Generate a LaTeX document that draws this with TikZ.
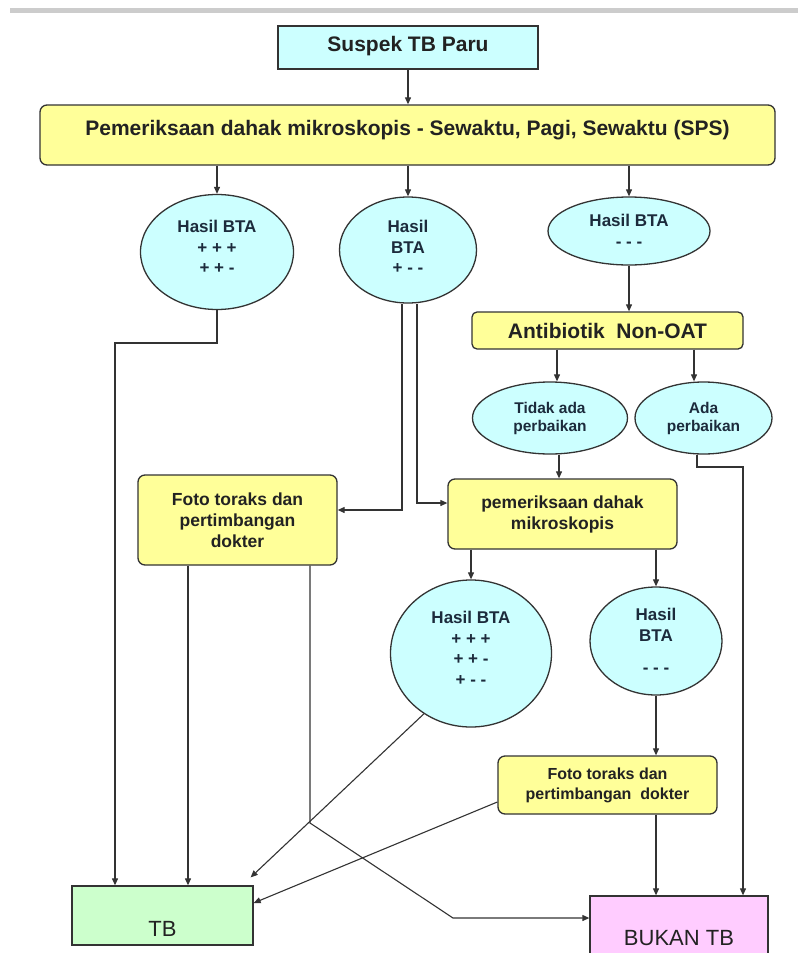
\documentclass[tikz,border=0pt]{standalone}
\usepackage{fontspec}
\setmainfont{Liberation Sans}
\usetikzlibrary{shapes.geometric,arrows.meta,calc}
\definecolor{cy}{HTML}{CCFFFF}
\definecolor{ye}{HTML}{FFFF99}
\definecolor{gr}{HTML}{CCFFCC}
\definecolor{pk}{HTML}{FFCCFF}
\definecolor{lnc}{HTML}{333333}
\definecolor{txb}{HTML}{222222}
\definecolor{txe}{HTML}{1C2B3C}
\begin{document}
\begin{tikzpicture}[x=1pt,y=-1pt,
  box/.style={draw=lnc, line width=1.3pt, inner sep=0pt, align=center, text=txb},
  ybox/.style={box, fill=ye, rounded corners=7pt, font=\fontsize{17.5}{21}\bfseries\selectfont},
  ell/.style={box, ellipse, fill=cy, text=txe, font=\fontsize{17}{20.5}\bfseries\selectfont},
  arr/.style={draw=lnc, line width=1.1pt, -{Triangle[length=7pt,width=6pt]}},
  plain/.style={draw=lnc, line width=1.1pt}
]
\useasboundingbox (0,0) rectangle (798,953);
\fill[white] (0,0) rectangle (798,953);
\fill[gray!40] (10,8) rectangle (798,13);

% nodes
\node[box, fill=cy, minimum width=260pt, minimum height=43pt,
      font=\fontsize{21}{24}\bfseries\selectfont, text height=15pt, text depth=8pt]
      (suspek) at (408,47.5) {Suspek TB Paru};
\node[ybox, minimum width=735pt, minimum height=60pt,
      font=\fontsize{21}{24}\bfseries\selectfont, text height=15pt, text depth=14pt]
      (sps) at (407.5,135) {Pemeriksaan dahak mikroskopis - Sewaktu, Pagi, Sewaktu (SPS)};

\node[ell, minimum width=153pt, minimum height=115pt, text depth=10pt] (e1) at (217,252)
      {Hasil BTA\\+ + +\\+ + -};
\node[ell, minimum width=137pt, minimum height=106pt, text depth=6pt] (e2) at (408,250)
      {Hasil\\BTA\\+ - -};
\node[ell, minimum width=162pt, minimum height=68pt] (e3) at (629,231)
      {Hasil BTA\\- - -};

\node[ybox, minimum width=271pt, minimum height=37pt, rounded corners=5pt,
      font=\fontsize{21}{24}\bfseries\selectfont] (anti) at (607.5,330.5)
      {Antibiotik\ \ Non-OAT};

\node[ell, minimum width=155pt, minimum height=72pt,
      font=\fontsize{15.5}{18}\bfseries\selectfont] (tidak) at (550,418)
      {Tidak ada\\perbaikan};
\node[ell, minimum width=137pt, minimum height=72pt,
      font=\fontsize{15.5}{18}\bfseries\selectfont] (ada) at (703.5,418)
      {Ada\\perbaikan};

\node[ybox, minimum width=199pt, minimum height=90pt] (foto1) at (237.5,520)
      {Foto toraks dan\\pertimbangan\\dokter};
\node[ybox, minimum width=229pt, minimum height=70pt] (pem) at (562.5,514)
      {pemeriksaan dahak\\mikroskopis};

\node[ell, minimum width=161pt, minimum height=147pt, text depth=10pt] (e4) at (471,653.5)
      {Hasil BTA\\+ + +\\+ + -\\+ - -};
\node[ell, minimum width=132pt, minimum height=108pt] (e5) at (656,641)
      {Hasil\\BTA\\[12pt]- - -};

\node[ybox, minimum width=219pt, minimum height=58pt,
      font=\fontsize{16}{20}\bfseries\selectfont] (foto2) at (607.5,785)
      {Foto toraks dan\\pertimbangan\ \ dokter};

\node[box, fill=gr, minimum width=181pt, minimum height=59pt,
      font=\fontsize{22}{24}\selectfont, text height=41pt, text depth=0pt]
      (tb) at (162.5,915.5) {TB};
\node[box, fill=pk, minimum width=178pt, minimum height=62pt,
      font=\fontsize{22}{24}\selectfont, text height=36pt, text depth=0pt]
      (bukan) at (679,927) {BUKAN TB};

% helper coordinates
\coordinate (c1) at (115,343);
\coordinate (k1) at (402,510);
\coordinate (k2) at (417,503);
\coordinate (t1) at ([xshift=7pt]tidak.north);
\coordinate (a1) at ([xshift=-9.5pt]ada.north);
\coordinate (t2) at ([xshift=9pt]tidak.south);
\coordinate (a2) at ([xshift=-6.5pt]ada.south);
\coordinate (a3) at (743,467);
\coordinate (f1a) at ([xshift=-49.5pt]foto1.south);
\coordinate (f1b) at ([xshift=72.5pt]foto1.south);
\coordinate (d1) at (310,823);
\coordinate (d2) at (453,918);
\coordinate (g1) at (foto2.south -| e5.south);

% connectors
\draw[arr] (suspek.south) -- (suspek.south |- sps.north);
\draw[arr] (sps.south -| e1.north) -- (e1.north);
\draw[arr] (sps.south -| e2.north) -- (e2.north);
\draw[arr] (sps.south -| e3.north) -- (e3.north);

\draw[arr] (e1.south) |- (c1) -- (c1 |- tb.north);
\draw[arr] (e2.south -| k1) -- (k1) -- (k1 -| foto1.east);
\draw[arr] (e2.south -| k2) -- (k2) -- (k2 -| pem.west);

\draw[arr] (e3.south) -- (e3.south |- anti.north);
\draw[arr] (anti.south -| t1) -- (t1);
\draw[arr] (anti.south -| a1) -- (a1);
\draw[arr] (t2) -- (t2 |- pem.north);
\draw[arr] (a2) |- (a3) -- (a3 |- bukan.north);

\draw[arr] (pem.south -| e4.north) -- (e4.north);
\draw[arr] (pem.south -| e5.north) -- (e5.north);
\draw[arr] (e5.south) -- (e5.south |- foto2.north);

\draw[arr] (f1a) -- (f1a |- tb.north);
\draw[arr] (f1b) -- (d1) -- (d2) -- (d2 -| bukan.west);
\draw[arr] (e4.232) -- ([shift={(-3,-8)}]tb.north east);
\draw[arr] ([yshift=-17pt]foto2.west) -- ([yshift=12.5pt]tb.east);
\draw[arr] (g1) -- (g1 |- bukan.north);
\end{tikzpicture}
\end{document}
